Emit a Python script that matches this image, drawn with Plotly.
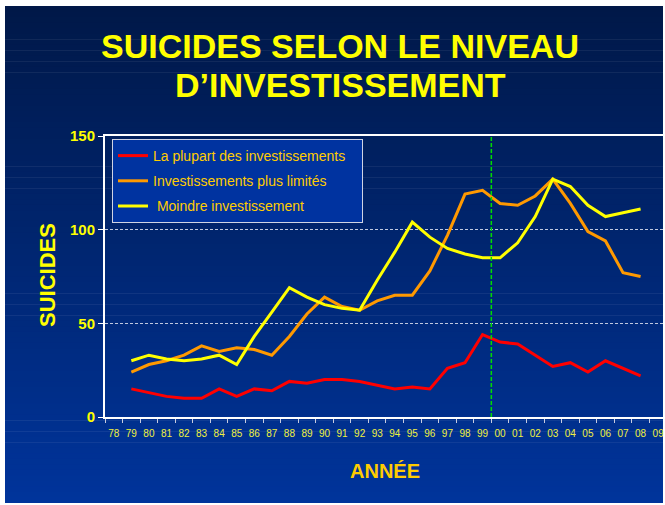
import plotly.graph_objects as go

# Years shown on the category axis (two-digit labels)
years = ["78", "79", "80", "81", "82", "83", "84", "85", "86", "87", "88", "89",
         "90", "91", "92", "93", "94", "95", "96", "97", "98", "99", "00", "01",
         "02", "03", "04", "05", "06", "07", "08", "09"]

# Data years (1979-2008)
data_years = years[1:31]

most_invest = [15, 13, 11, 10, 10, 15, 11, 15, 14, 19, 18, 20, 20, 19, 17,
               15, 16, 15, 26, 29, 44, 40, 39, 33, 27, 29, 24, 30, 26, 22]
limited_invest = [24, 28, 30, 33, 38, 35, 37, 36, 33, 43, 55, 64, 59, 57, 62,
                  65, 65, 78, 97, 119, 121, 114, 113, 118, 127, 114, 99, 94, 77, 75]
least_invest = [30, 33, 31, 30, 31, 33, 28, 43, 56, 69, 64, 60, 58, 57, 73,
                88, 104, 96, 90, 87, 85, 85, 93, 107, 127, 123, 113, 107, 109, 111]

series_names = ["La plupart des investissements\u00a0\u00a0\u00a0",
                "Investissements plus limités",
                "\u00a0Moindre investissement"]
series_colors = ["#ff0000", "#ff9900", "#ffff00"]

y_ticks = [0, 50, 100, 150]

W, H = 665, 505
ML, MR, MT, MB = 105, 0, 136, 88
PW, PH = W - ML - MR, H - MT - MB


def px_x(px):
    return (px - ML) / PW


def px_y(py):
    return (H - MB - py) / PH


fig = go.Figure()
for name, vals, col in zip(series_names, [most_invest, limited_invest, least_invest], series_colors):
    fig.add_trace(go.Scatter(
        x=data_years, y=vals, name=name, mode="lines",
        line=dict(color=col, width=3), legendgroup=name,
    ))

# Slide background: vertical gradient from dark navy to royal blue
shapes = []
n_strips = 90
top_px, bot_px = 6, 503
c_top = (0, 24, 72)
c_bot = (0, 52, 155)
for i in range(n_strips):
    t = i / (n_strips - 1)
    r = round(c_top[0] + (c_bot[0] - c_top[0]) * t)
    g = round(c_top[1] + (c_bot[1] - c_top[1]) * t)
    b = round(c_top[2] + (c_bot[2] - c_top[2]) * t)
    y0 = top_px + (bot_px - top_px) * i / n_strips
    y1 = top_px + (bot_px - top_px) * (i + 1) / n_strips + 0.6
    shapes.append(dict(
        type="rect", xref="paper", yref="paper", layer="below",
        x0=px_x(5), x1=px_x(663), y0=px_y(min(y1, bot_px)), y1=px_y(y0),
        line=dict(width=0), fillcolor=f"rgb({r},{g},{b})",
    ))

# Dashed green marker between 1999 and 2000
shapes.append(dict(
    type="line", xref="x", yref="y", x0=21.5, x1=21.5, y0=0, y1=150,
    line=dict(color="#00dd00", width=1.5, dash="4px,2px"), layer="above",
))

annotations = [
    dict(text="<b>SUICIDES SELON LE NIVEAU</b>", xref="paper", yref="paper",
         x=px_x(340), y=px_y(46), xanchor="center", yanchor="middle",
         showarrow=False, font=dict(family="Liberation Sans, Arial", size=34, color="#ffff00")),
    dict(text="<b>D\u2019INVESTISSEMENT</b>", xref="paper", yref="paper",
         x=px_x(340), y=px_y(85), xanchor="center", yanchor="middle",
         showarrow=False, font=dict(family="Liberation Sans, Arial", size=34, color="#ffff00")),
    dict(text="<b>SUICIDES</b>", xref="paper", yref="paper", textangle=-90,
         x=px_x(47), y=px_y(275), xanchor="center", yanchor="middle",
         showarrow=False, font=dict(family="Liberation Sans, Arial", size=22, color="#ffff00")),
    dict(text="<b>ANNÉE</b>", xref="paper", yref="paper",
         x=px_x(385), y=px_y(471), xanchor="center", yanchor="middle",
         showarrow=False, font=dict(family="Liberation Sans, Arial", size=20, color="#ffcc00")),
]

fig.update_layout(
    width=W, height=H,
    margin=dict(l=ML, r=MR, t=MT, b=MB, pad=0),
    paper_bgcolor="#ffffff",
    plot_bgcolor="rgba(0,0,0,0)",
    shapes=shapes,
    annotations=annotations,
    showlegend=True,
    legend=dict(
        x=px_x(112), y=px_y(139), xanchor="left", yanchor="top",
        bgcolor="#0033a0", bordercolor="#d0d4e4", borderwidth=1,
        font=dict(family="Liberation Sans, Arial", size=14, color="#ffcc00"),
        traceorder="grouped", tracegroupgap=4,
    ),
    xaxis=dict(
        type="category", categoryorder="array", categoryarray=years,
        tickmode="array", tickvals=years, ticktext=years,
        range=[-0.5, 31.39], tickson="boundaries", tickangle=0,
        ticks="outside", ticklen=4, tickcolor="#c8cce0", tickwidth=1,
        ticklabelstandoff=6,
        showline=True, linecolor="#ffffff", linewidth=2, mirror=True,
        showgrid=False, zeroline=False,
        tickfont=dict(family="Liberation Sans, Arial", size=10, color="#f0f040"),
    ),
    yaxis=dict(
        range=[0, 150], tickvals=y_ticks,
        ticktext=[f"<b>{v}</b>" for v in y_ticks],
        ticks="outside", ticklen=5, tickcolor="#ffffff", tickwidth=1,
        showline=True, linecolor="#ffffff", linewidth=2,
        showgrid=True, gridcolor="#c0c8e0", gridwidth=1, griddash="3px,2px",
        zeroline=False,
        tickfont=dict(family="Liberation Sans, Arial", size=15, color="#ffff00"),
    ),
)

fig.write_html("out.html")
